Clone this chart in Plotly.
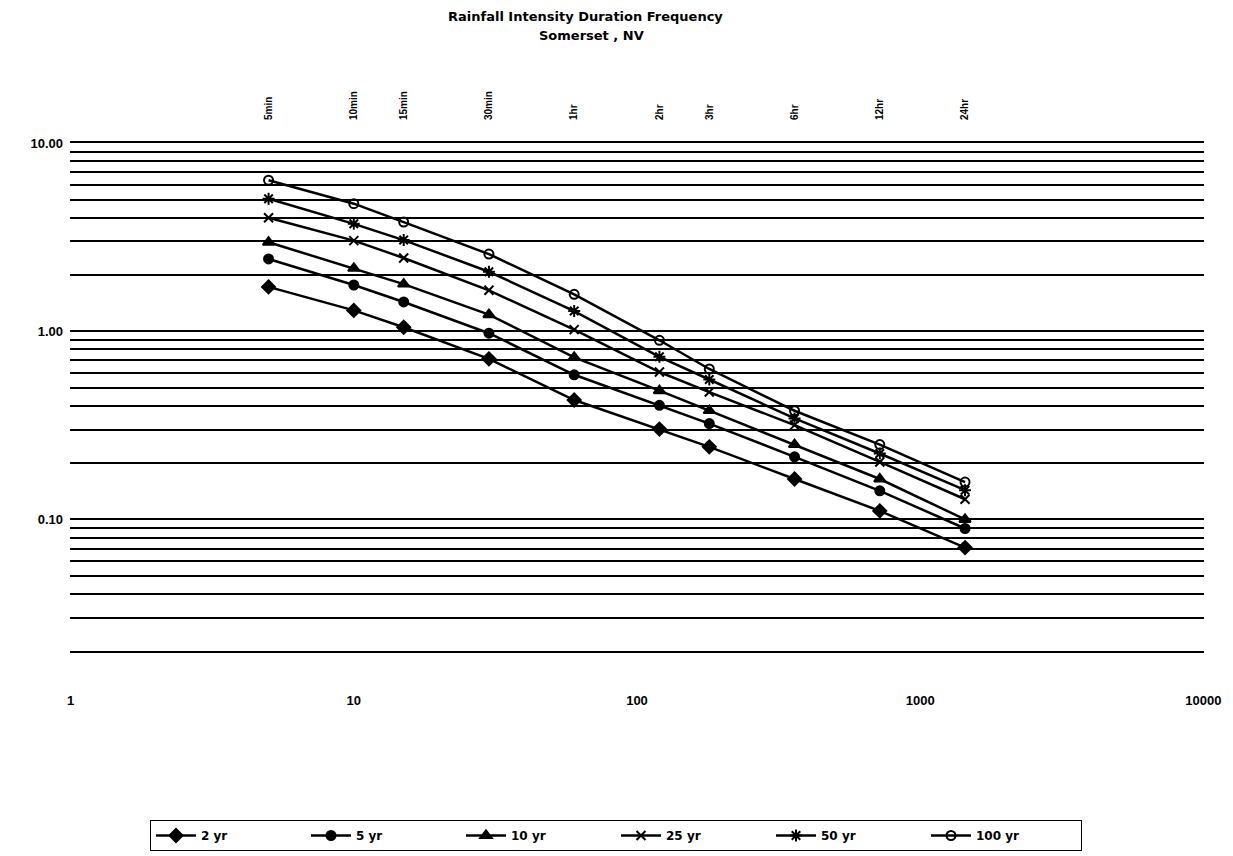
import math
import plotly.graph_objects as go

# ---- data (rainfall intensity, in/hr) ----
durations_min = [5, 10, 15, 30, 60, 120, 180, 360, 720, 1440]
duration_labels = ["5min", "10min", "15min", "30min", "1hr", "2hr", "3hr", "6hr", "12hr", "24hr"]

yr2 = [1.72, 1.29, 1.05, 0.713, 0.431, 0.302, 0.243, 0.164, 0.111, 0.0709]
yr5 = [2.42, 1.76, 1.43, 0.976, 0.587, 0.404, 0.323, 0.215, 0.142, 0.0895]
yr10 = [2.97, 2.16, 1.78, 1.225, 0.726, 0.483, 0.379, 0.250, 0.164, 0.100]
yr25 = [4.01, 3.03, 2.45, 1.65, 1.02, 0.607, 0.475, 0.317, 0.202, 0.128]
yr50 = [5.06, 3.72, 3.05, 2.07, 1.28, 0.731, 0.554, 0.344, 0.224, 0.143]
yr100 = [6.34, 4.76, 3.80, 2.57, 1.57, 0.895, 0.630, 0.378, 0.250, 0.158]

series_names = ["2 yr", "5 yr", "10 yr", "25 yr", "50 yr", "100 yr"]
series_values = [yr2, yr5, yr10, yr25, yr50, yr100]

x_tickvals = [1, 10, 100, 1000, 10000]
x_ticktext = ["1", "10", "100", "1000", "10000"]
y_tickvals = [0.1, 1, 10]
y_ticktext = ["0.10", "1.00", "10.00"]

title_line1 = "Rainfall Intensity Duration Frequency"
title_line2 = "Somerset , NV"

# ---- styles / geometry ----
symbols = ["diamond", "circle", "triangle-up", "x-thin-open", "asterisk-open", "circle-open"]
sizes = [10, 9, 10, 9, 10, 9]
FONT = "Liberation Sans, Arial, sans-serif"
TFONT = "DejaVu Sans, Liberation Sans, sans-serif"

W, H = 1225, 848          # page shows the figure offset by the 8px body margin
L, R, T, B = 62, 18, 135, 205
PW, PH = W - L - R, H - T - B

fig = go.Figure()
for name, vals, sym, sz in zip(series_names, series_values, symbols, sizes):
    fig.add_trace(go.Scatter(
        x=durations_min, y=vals, name=name, mode="lines+markers",
        line=dict(color="black", width=2.5),
        marker=dict(symbol=sym, size=sz, color="black",
                    line=dict(color="black", width=2)),
    ))

# invisible trace to carry the top duration axis
fig.add_trace(go.Scatter(
    x=durations_min, y=yr2, xaxis="x2", mode="markers",
    marker=dict(opacity=0), showlegend=False, hoverinfo="skip",
))

minor_vals = [m * 10.0 ** e for e in (-2, -1, 0) for m in range(2, 10)]
xrange = [math.log10(0.995), math.log10(10050)]


def px_x(page_x):
    return (page_x - 8 - L) / PW


def px_y(page_y):
    return 1 + (T - (page_y - 8)) / PH


fig.update_layout(
    width=W, height=H,
    paper_bgcolor="white", plot_bgcolor="white",
    margin=dict(l=L, r=R, t=T, b=B),
    font=dict(family=FONT, color="black", size=13),
    annotations=[
        dict(text=title_line1, xref="paper", yref="paper", x=px_x(591), y=px_y(16),
             xanchor="center", yanchor="middle", showarrow=False,
             font=dict(family=TFONT, size=13, color="black", weight="bold")),
        dict(text=title_line2, xref="paper", yref="paper", x=px_x(597), y=px_y(36),
             xanchor="center", yanchor="middle", showarrow=False,
             font=dict(family=TFONT, size=13, color="black", weight="bold")),
    ],
    xaxis=dict(
        type="log", range=xrange,
        tickmode="array", tickvals=x_tickvals, ticktext=x_ticktext,
        showgrid=False, zeroline=False,
        showline=True, mirror=True, linecolor="black", linewidth=2,
        ticks="", ticklabelstandoff=36,
        tickfont=dict(size=13, family=FONT, color="black", weight="bold"),
    ),
    xaxis2=dict(
        type="log", range=xrange, overlaying="x", side="top",
        tickmode="array", tickvals=durations_min, ticktext=duration_labels,
        tickangle=-90, showgrid=False, zeroline=False, showline=False,
        ticks="", ticklabelstandoff=22,
        tickfont=dict(size=10, family=FONT, color="black", weight="bold"),
    ),
    yaxis=dict(
        type="log", range=[math.log10(0.02), 1],
        tickmode="array", tickvals=y_tickvals, ticktext=y_ticktext,
        showgrid=True, gridcolor="black", gridwidth=2,
        zeroline=False, showline=False, ticks="", ticklabelstandoff=6,
        tickfont=dict(size=13, family=FONT, color="black", weight="bold"),
        minor=dict(tickmode="array", tickvals=minor_vals, showgrid=True,
                   gridcolor="black", gridwidth=2, ticks=""),
    ),
    legend=dict(
        orientation="h", xref="container", yref="container",
        x=(150 - 8) / W, y=1 - (820 - 8) / H, xanchor="left", yanchor="top",
        bordercolor="black", borderwidth=1, bgcolor="white",
        entrywidth=100, entrywidthmode="pixels", itemwidth=40,
        font=dict(size=12, family=TFONT, color="black", weight="bold"),
    ),
    showlegend=True,
)

fig.write_html("out.html")
